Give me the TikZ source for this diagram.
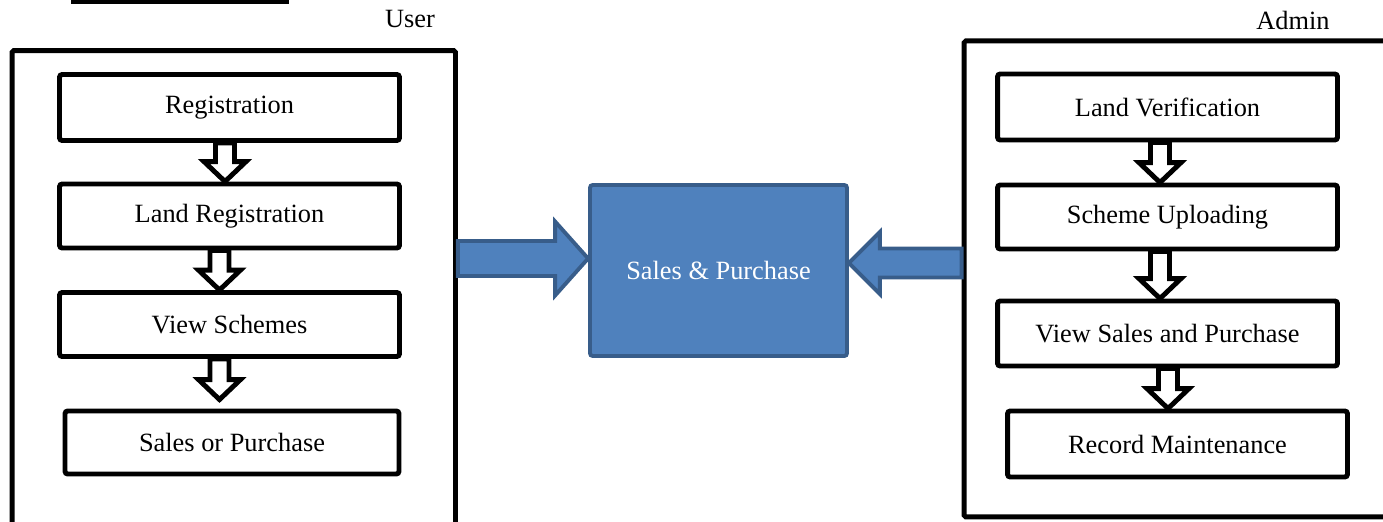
\documentclass[tikz,border=0pt]{standalone}
\usepackage{fontspec}
\setmainfont{Liberation Serif}
\usetikzlibrary{calc}
\usetikzlibrary{positioning}

\definecolor{hubfill}{HTML}{4F81BD}
\definecolor{hubline}{HTML}{385D8A}

\tikzset{
	panel/.style = {draw, line width=2.8pt, rounded corners=1pt},
	stepbox/.style = {draw, line width=2.8pt, rounded corners=1.5pt, minimum width=6.8cm, minimum height=1.3cm, font=\fontsize{15}{18}\selectfont},
	flowarrow/.style = {draw, fill=white, line width=2.8pt, miter limit=4},
	hubarrow/.style = {draw=hubline, fill=hubfill, line width=2.2pt},
}

% hollow down arrow: [gap]{x}{from}{to}
\newcommand{\hollowarrow}[4][0]{%
	\coordinate (ax) at (#2,0);
	\coordinate (tip) at ($(#4.north -| ax)+(0,-#1)$);
	\coordinate (base) at ($(tip)+(0,-20)$);
	\draw[flowarrow] ($(#3.south -| ax)+(-9.5,0)$) -- ($(base)+(-9.5,0)$) -- ($(base)+(-21,0)$) -- (tip) -- ($(base)+(21,0)$) -- ($(base)+(9.5,0)$) -- ($(#3.south -| ax)+(9.5,0)$) -- cycle;}

\begin{document}
\begin{tikzpicture}[x = 0.02cm, y = -0.02cm]
	\useasboundingbox (0,0) rectangle (1383,521);
	\clip (0,0) rectangle (1383,521);

	% Panels
	\fill (71,-3) rectangle (289,3.5);
	\node[panel, minimum width=8.87cm, minimum height=10.19cm] (user) at (233.75,305.25) {};
	\node[panel, minimum width=8.72cm, minimum height=9.52cm] (admin) at (1182,278.9) {};
	\node[font=\fontsize{15}{18}\selectfont] (usertitle) at (410,19) {User};
	\node[font=\fontsize{15}{18}\selectfont] (admintitle) at (1293,20) {Admin};

	% User steps
	\node[stepbox, minimum height=1.32cm] (reg) at (229.5,107.5) {Registration};
	\node[stepbox, minimum height=1.28cm] (landreg) at (229.5,216) {Land Registration};
	\node[stepbox, minimum height=1.28cm] (view) at (229.5,324.5) {View Schemes};
	\node[stepbox, minimum width=6.68cm, minimum height=1.26cm] (sales) at (232,442.5) {Sales or Purchase};

	% Admin steps
	\node[stepbox, minimum height=1.32cm] (landver) at (1167.5,107) {Land Verification};
	\node[stepbox, minimum height=1.28cm] (scheme) at (1167.5,217) {Scheme Uploading};
	\node[stepbox, minimum height=1.3cm] (viewsp) at (1167.5,333.5) {View Sales and Purchase};
	\node[stepbox, minimum height=1.32cm] (record) at (1177.5,444) {Record Maintenance};

	% Hub
	\node[draw=hubline, fill=hubfill, line width=2.2pt, rounded corners=1.5pt, minimum width=5.14cm, minimum height=3.42cm, text=white, font=\fontsize{15}{18}\selectfont] (hub) at (718.5,270.5) {Sales \& Purchase};

	% Edges
	\hollowarrow{225}{reg}{landreg}
	\hollowarrow{219.5}{landreg}{view}
	\hollowarrow[9]{219.5}{view}{sales}
	\hollowarrow{1160}{landver}{scheme}
	\hollowarrow{1160}{scheme}{viewsp}
	\hollowarrow{1168}{viewsp}{record}

	\coordinate (ly) at (0,258.5);
	\coordinate (ry) at (0,263);
	\draw[hubarrow] ($(user.east |- ly)+(0,-17.5)$) -- ($(hub.west |- ly)+(-33,-17.5)$) -- ($(hub.west |- ly)+(-33,-37)$) -- (hub.west |- ly) -- ($(hub.west |- ly)+(-33,37)$) -- ($(hub.west |- ly)+(-33,17.5)$) -- ($(user.east |- ly)+(0,17.5)$) -- cycle;
	\draw[hubarrow] ($(admin.west |- ry)+(0,-14.5)$) -- ($(hub.east |- ry)+(31,-14.5)$) -- ($(hub.east |- ry)+(31,-31)$) -- (hub.east |- ry) -- ($(hub.east |- ry)+(31,31)$) -- ($(hub.east |- ry)+(31,14.5)$) -- ($(admin.west |- ry)+(0,14.5)$) -- cycle;
\end{tikzpicture}
\end{document}
